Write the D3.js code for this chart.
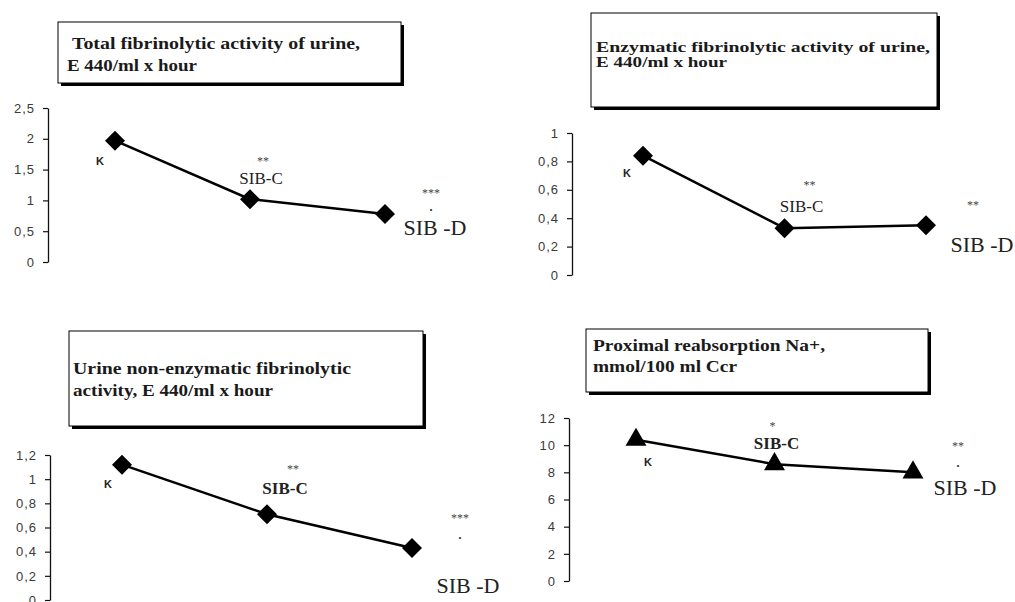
<!DOCTYPE html>
<html>
<head>
<meta charset="utf-8">
<script src="https://cdn.jsdelivr.net/npm/d3@7"></script>
<style>
  html, body { margin: 0; padding: 0; background: #fff; }
  svg { display: block; }
</style>
</head>
<body>
<svg id="chart" width="1015" height="602"></svg>
<script>
// ---------- DATA ----------
const categories = ["K", "SIB-C", "SIB-D"];

const totalValues        = [1.97, 1.02, 0.78];
const enzymaticValues    = [0.84, 0.33, 0.35];
const nonEnzymaticValues = [1.12, 0.71, 0.43];
const proximalValues     = [10.4, 8.6, 8.0];

const totalTicks        = [0, 0.5, 1, 1.5, 2, 2.5];
const enzymaticTicks    = [0, 0.2, 0.4, 0.6, 0.8, 1];
const nonEnzymaticTicks = [0, 0.2, 0.4, 0.6, 0.8, 1, 1.2];
const proximalTicks     = [0, 2, 4, 6, 8, 10, 12];

const totalTitle        = ["Total fibrinolytic activity of urine,", "E 440/ml x hour"];
const enzymaticTitle    = ["Enzymatic fibrinolytic activity of urine,", "E 440/ml x hour"];
const nonEnzymaticTitle = ["Urine non-enzymatic fibrinolytic", "activity, E 440/ml x hour"];
const proximalTitle     = ["Proximal reabsorption Na+,", "mmol/100 ml Ccr"];

// significance marks per category: [stars, dot]
const totalSig        = [["", ""], ["**", ""], ["***", "."]];
const enzymaticSig    = [["", ""], ["**", ""], ["**", ""]];
const nonEnzymaticSig = [["", ""], ["**", ""], ["***", "."]];
const proximalSig     = [["", ""], ["*", ""], ["**", "."]];

// ---------- LAYOUT ----------
const svg = d3.select("#chart");
const serif = "'Liberation Serif', 'Times New Roman', serif";
const sans = "'Liberation Sans', Arial, sans-serif";

const panels = [
  {
    values: totalValues, ticks: totalTicks, title: totalTitle, sig: totalSig,
    domain: [0, 2.5], yRange: [262, 108], xRange: [115, 385], axisX: 48,
    box: {x: 58, y: 22, w: 343, h: 61},
    titleX: [72, 67], titleY: [49, 71], titleW: [288, 130], titleFs: 16,
    marker: "diamond", catBold: false, cFs: 17,
    lab: { K: [-15, 20], C: [11, -21], Csig: [13, -41], D: [50, 14], Dsig: [46, -24], Dsig2: [46, -6] }
  },
  {
    values: enzymaticValues, ticks: enzymaticTicks, title: enzymaticTitle, sig: enzymaticSig,
    domain: [0, 1], yRange: [275, 133], xRange: [643, 926], axisX: 572,
    box: {x: 591, y: 13, w: 346, h: 94},
    titleX: [596, 596], titleY: [52, 67], titleW: [334, 131], titleFs: 14,
    marker: "diamond", catBold: false, cFs: 17,
    lab: { K: [-16, 17], C: [17, -22], Csig: [25, -46], D: [56, 19], Dsig: [47, -23], Dsig2: null }
  },
  {
    values: nonEnzymaticValues, ticks: nonEnzymaticTicks, title: nonEnzymaticTitle, sig: nonEnzymaticSig,
    domain: [0, 1.2], yRange: [600, 455], xRange: [122, 412], axisX: 50,
    box: {x: 69, y: 331, w: 354, h: 95},
    titleX: [73, 73], titleY: [374, 396], titleW: [278, 200], titleFs: 16,
    marker: "diamond", catBold: true, cFs: 17,
    lab: { K: [-14, 19], C: [18, -26], Csig: [26, -48], D: [56, 37], Dsig: [48, -33], Dsig2: [48, -12] }
  },
  {
    values: proximalValues, ticks: proximalTicks, title: proximalTitle, sig: proximalSig,
    domain: [0, 12], yRange: [581, 418], xRange: [636, 913], axisX: 569,
    box: {x: 586, y: 329, w: 342, h: 63},
    titleX: [593, 593], titleY: [351, 372], titleW: [232, 144], titleFs: 16,
    marker: "triangle", catBold: true, cFs: 17,
    lab: { K: [12, 22], C: [2, -21], Csig: [-2, -41], D: [52, 15], Dsig: [45, -29], Dsig2: [45, -8] }
  }
];

panels.forEach(p => {
  const g = svg.append("g");

  // title box with shadow
  g.append("rect")
    .attr("x", p.box.x + 3).attr("y", p.box.y + 3)
    .attr("width", p.box.w).attr("height", p.box.h)
    .attr("fill", "#000");
  g.append("rect")
    .attr("x", p.box.x).attr("y", p.box.y)
    .attr("width", p.box.w).attr("height", p.box.h)
    .attr("fill", "#fff").attr("stroke", "#000").attr("stroke-width", 1);
  p.title.forEach((t, i) => {
    g.append("text")
      .attr("x", p.titleX[i]).attr("y", p.titleY[i])
      .attr("font-family", serif)
      .attr("font-weight", "bold")
      .attr("font-size", p.titleFs)
      .attr("textLength", p.titleW[i])
      .attr("lengthAdjust", "spacingAndGlyphs")
      .attr("fill", "#1a1a1a")
      .text(t);
  });

  // scales
  const x = d3.scalePoint().domain(categories).range(p.xRange);
  const y = d3.scaleLinear().domain(p.domain).range(p.yRange);

  // axis
  const axis = d3.axisLeft(y)
    .tickValues(p.ticks)
    .tickSizeInner(5).tickSizeOuter(0).tickPadding(8)
    .tickFormat(d => String(d).replace(".", ","));
  const ag = g.append("g")
    .attr("transform", `translate(${p.axisX},0)`)
    .call(axis);
  ag.select(".domain").attr("stroke", "#111").attr("stroke-width", 1.3);
  ag.selectAll(".tick line").attr("stroke", "#111").attr("stroke-width", 1.2);
  ag.selectAll(".tick text")
    .attr("font-family", sans)
    .attr("font-size", 13)
    .attr("letter-spacing", "1px")
    .attr("fill", "#3a3a3a");

  // line
  const data = categories.map((c, i) => ({c, v: p.values[i], sig: p.sig[i]}));
  g.append("path")
    .datum(data)
    .attr("fill", "none").attr("stroke", "#000").attr("stroke-width", 2.5)
    .attr("d", d3.line().x(d => x(d.c)).y(d => y(d.v)));

  // markers
  const sym = p.marker === "diamond"
    ? d3.symbol().type(d3.symbolSquare).size(200)
    : d3.symbol().type(d3.symbolTriangle).size(190);
  g.selectAll(".mk").data(data).join("path")
    .attr("transform", d => `translate(${x(d.c)},${y(d.v)})` + (p.marker === "diamond" ? " rotate(45)" : ""))
    .attr("d", sym)
    .attr("fill", "#000");

  // category labels
  const keyMap = {"K": "K", "SIB-C": "C", "SIB-D": "D"};
  data.forEach(d => {
    const k = keyMap[d.c];
    const px = x(d.c), py = y(d.v);
    const o = p.lab[k];
    if (k === "K") {
      g.append("text")
        .attr("x", px + o[0]).attr("y", py + o[1])
        .attr("text-anchor", "middle").attr("dominant-baseline", "central")
        .attr("font-family", sans)
        .attr("font-weight", "bold").attr("font-size", 11).attr("fill", "#222")
        .text(d.c);
      return;
    }
    g.append("text")
      .attr("x", px + o[0]).attr("y", py + o[1])
      .attr("text-anchor", "middle").attr("dominant-baseline", "central")
      .attr("font-family", serif)
      .attr("font-weight", (k === "C" && p.catBold) ? "bold" : "normal")
      .attr("font-size", k === "D" ? 22 : p.cFs).attr("fill", "#222")
      .text(k === "D" ? "SIB -D" : d.c);
    const s1 = p.lab[k + "sig"], s2 = p.lab[k + "sig2"];
    if (d.sig[0] && s1) {
      g.append("text")
        .attr("x", px + s1[0]).attr("y", py + s1[1] + 3)
        .attr("text-anchor", "middle").attr("dominant-baseline", "central")
        .attr("font-family", serif)
        .attr("font-size", 12).attr("fill", "#444")
        .text(d.sig[0]);
    }
    if (d.sig[1] && s2) {
      g.append("text")
        .attr("x", px + s2[0]).attr("y", py + s2[1] + 3)
        .attr("text-anchor", "middle")
        .attr("font-family", serif)
        .attr("font-weight", "bold")
        .attr("font-size", 12).attr("fill", "#222")
        .text(d.sig[1]);
    }
  });
});
</script>
</body>
</html>
